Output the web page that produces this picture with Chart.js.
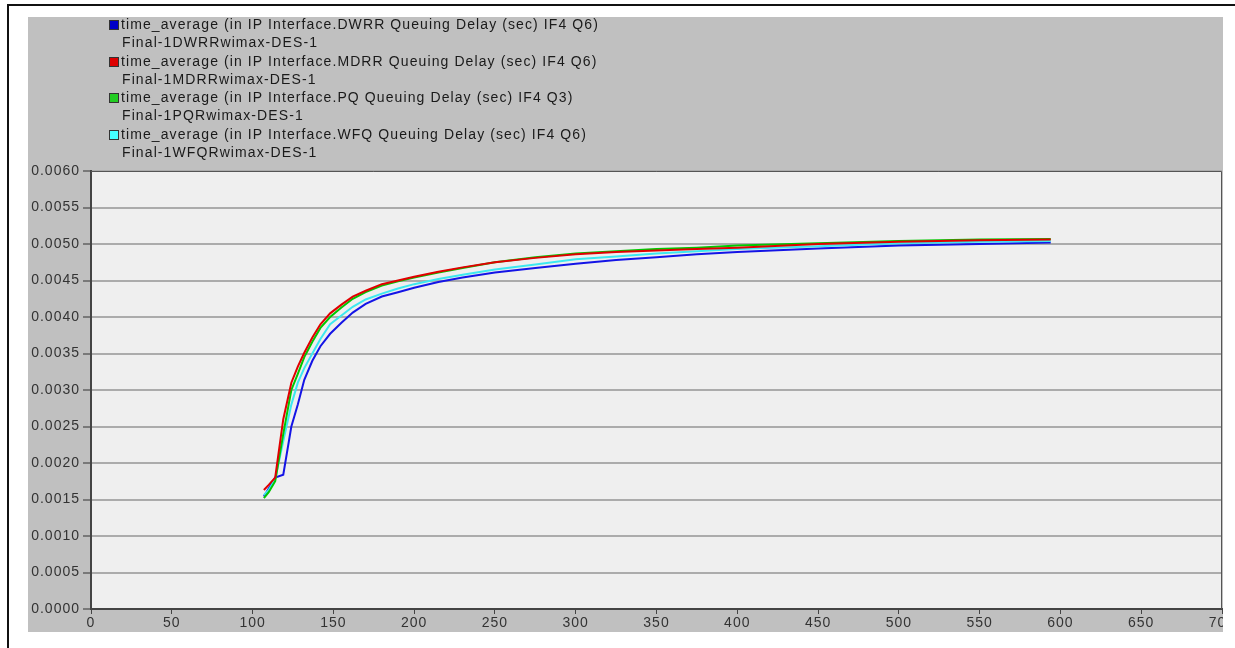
<!DOCTYPE html>
<html>
<head>
<meta charset="utf-8">
<script src="https://cdn.jsdelivr.net/npm/chart.js@4.4.1/dist/chart.umd.min.js"></script>
<style>
  body { margin: 0; background: #fff; width: 1235px; height: 648px; overflow: hidden; position: relative; font-family: "Liberation Sans", Arial, sans-serif; }
  #frame { position: absolute; left: 7px; top: 4px; width: 1226px; height: 700px; border-top: 2px solid #111; border-left: 2px solid #111; }
  #panel { position: absolute; left: 28px; top: 17px; width: 1195px; height: 615px; background: #c0c0c0; overflow: hidden; }
  #chart { position: absolute; left: 0; top: 0; }
  #legend { position: absolute; left: 81px; top: -2px; font-size: 14px; letter-spacing: 1.1px; color: #1a1a1a; line-height: 18.3px; white-space: nowrap; }
  .row { position: relative; padding-left: 12px; }
  .row.sub { padding-left: 13px; }
  .box { position: absolute; left: 0; top: 5px; width: 8px; height: 8px; border: 1px solid #333; }
</style>
</head>
<body>
<div id="frame"></div>
<div id="panel">
  <canvas id="chart" width="1195" height="615"></canvas>
  <div id="legend"></div>
</div>
<script>
// 横軸（秒）
const timeSec = [107, 110, 114, 119, 124, 128, 132, 137, 142, 148, 155, 162, 170, 180, 190, 200, 215, 230, 250, 275, 300, 325, 350, 375, 400, 450, 500, 550, 594];

// 各キュー方式の平均遅延（秒）
const dwrrDelay = [0.00154, 0.00165, 0.00180, 0.00184, 0.00250, 0.00280, 0.00314, 0.00340, 0.00360, 0.00377, 0.00392, 0.00406, 0.00418, 0.00428, 0.00434, 0.00440, 0.00448, 0.00454, 0.00461, 0.00467, 0.00473, 0.00478, 0.00482, 0.00486, 0.00489, 0.00494, 0.00498, 0.00500, 0.00502];
const mdrrDelay = [0.00163, 0.00170, 0.00180, 0.00260, 0.00310, 0.00332, 0.00351, 0.00372, 0.00390, 0.00405, 0.00417, 0.00428, 0.00436, 0.00445, 0.00450, 0.00455, 0.00462, 0.00468, 0.00475, 0.00481, 0.00486, 0.00489, 0.00491, 0.00493, 0.00495, 0.00500, 0.00503, 0.00505, 0.00506];
const pqDelay   = [0.00152, 0.00160, 0.00175, 0.00240, 0.00300, 0.00322, 0.00345, 0.00366, 0.00385, 0.00400, 0.00413, 0.00425, 0.00434, 0.00443, 0.00449, 0.00454, 0.00461, 0.00467, 0.00475, 0.00482, 0.00487, 0.00490, 0.00493, 0.00495, 0.00498, 0.00501, 0.00504, 0.00506, 0.00507];
const wfqDelay  = [0.00156, 0.00163, 0.00178, 0.00230, 0.00280, 0.00310, 0.00330, 0.00350, 0.00370, 0.00390, 0.00402, 0.00414, 0.00424, 0.00432, 0.00439, 0.00445, 0.00452, 0.00458, 0.00465, 0.00472, 0.00479, 0.00483, 0.00487, 0.00490, 0.00493, 0.00497, 0.00501, 0.00503, 0.00504];

const seriesNames = [
  ["time_average (in IP Interface.DWRR Queuing Delay (sec) IF4 Q6)", "Final-1DWRRwimax-DES-1"],
  ["time_average (in IP Interface.MDRR Queuing Delay (sec) IF4 Q6)", "Final-1MDRRwimax-DES-1"],
  ["time_average (in IP Interface.PQ Queuing Delay (sec) IF4 Q3)", "Final-1PQRwimax-DES-1"],
  ["time_average (in IP Interface.WFQ Queuing Delay (sec) IF4 Q6)", "Final-1WFQRwimax-DES-1"]
];
const lineColors = ["#1414e6", "#e00000", "#00c800", "#3ce8f0"];
const boxColors = ["#0000c8", "#dd0000", "#22cc22", "#44ffff"];
const seriesData = [dwrrDelay, mdrrDelay, pqDelay, wfqDelay];
const drawOrder = [4, 1, 2, 3];

// 凡例（HTML）
const legendEl = document.getElementById("legend");
seriesNames.forEach((names, i) => {
  const r1 = document.createElement("div");
  r1.className = "row";
  r1.innerHTML = '<span class="box" style="background:' + boxColors[i] + '"></span>' + names[0];
  const r2 = document.createElement("div");
  r2.className = "row sub";
  r2.textContent = names[1];
  legendEl.appendChild(r1);
  legendEl.appendChild(r2);
});

// プロット領域の背景と枠
const plotFrame = {
  id: "plotFrame",
  beforeDraw(chart) {
    const { ctx, chartArea: a } = chart;
    ctx.save();
    ctx.fillStyle = "#efefef";
    ctx.fillRect(a.left, a.top, a.right - a.left, a.bottom - a.top);
    ctx.restore();
    ctx.letterSpacing = "1px";
  },
  afterDraw(chart) {
    const { ctx, chartArea: a } = chart;
    ctx.save();
    ctx.strokeStyle = "#555";
    ctx.lineWidth = 1;
    ctx.beginPath();
    ctx.moveTo(a.left, a.top + 0.5);
    ctx.lineTo(a.right - 0.5, a.top + 0.5);
    ctx.lineTo(a.right - 0.5, a.bottom);
    ctx.stroke();
    ctx.restore();
  }
};

const tickFont = { family: "Liberation Sans", size: 14 };

new Chart(document.getElementById("chart").getContext("2d"), {
  type: "line",
  data: {
    datasets: seriesData.map((vals, i) => ({
      label: seriesNames[i][0],
      data: timeSec.map((t, k) => ({ x: t, y: vals[k] })),
      borderColor: lineColors[i],
      borderWidth: 2,
      pointRadius: 0,
      tension: 0,
      fill: false,
      order: drawOrder[i]
    }))
  },
  options: {
    responsive: false,
    animation: false,
    devicePixelRatio: 1,
    layout: { padding: { top: 154, left: 0, right: 1, bottom: 0 } },
    plugins: { legend: { display: false }, tooltip: { enabled: false } },
    scales: {
      x: {
        type: "linear",
        min: 0,
        max: 700,
        ticks: { stepSize: 50, font: tickFont, color: "#333", padding: 1, maxRotation: 0 },
        grid: { drawOnChartArea: false, tickColor: "#444", tickLength: 5, tickWidth: 1 },
        border: { color: "#444", width: 2 },
        afterFit(s) { s.height = 23; s.paddingLeft = 0; s.paddingRight = 0; }
      },
      y: {
        min: 0,
        max: 0.006,
        ticks: { stepSize: 0.0005, font: tickFont, color: "#333", padding: 3, callback: v => v.toFixed(4) },
        grid: { color: "#ababab", lineWidth: 2, tickColor: "#333", tickLength: 8, tickWidth: 1 },
        border: { color: "#444", width: 2 },
        afterFit(s) { s.width = 63; }
      }
    }
  },
  plugins: [plotFrame]
});
</script>
</body>
</html>
